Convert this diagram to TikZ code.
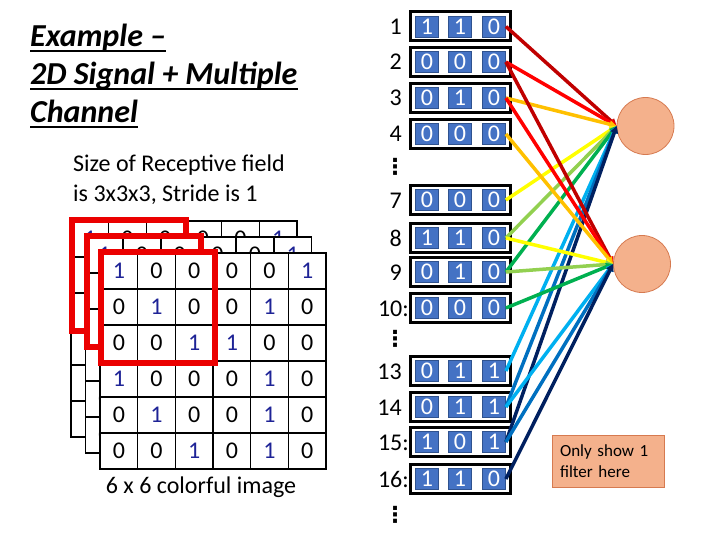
\documentclass[tikz,border=0pt]{standalone}
\usepackage{fontspec}
\setmainfont{Carlito}
\newfontfamily\dejavu{DejaVu Sans}
\usetikzlibrary{arrows.meta}
\definecolor{cdred}{HTML}{C00000}
\definecolor{cred}{HTML}{FF0000}
\definecolor{corange}{HTML}{FFC000}
\definecolor{cyellow}{HTML}{FFFF00}
\definecolor{clgreen}{HTML}{92D050}
\definecolor{cgreen}{HTML}{00B050}
\definecolor{clblue}{HTML}{00B0F0}
\definecolor{cblue}{HTML}{0070C0}
\definecolor{cdblue}{HTML}{002060}
\definecolor{cone}{RGB}{30,35,150}
\definecolor{sqblue}{HTML}{4472C4}
\definecolor{sqedge}{HTML}{2F528F}
\definecolor{salmon}{RGB}{244,177,140}
\definecolor{salmonedge}{RGB}{214,122,80}
\definecolor{rbox}{RGB}{235,0,0}
\tikzset{
  titletext/.style={anchor=base west, inner sep=0pt, font=\fontsize{32}{38}\selectfont\bfseries\itshape},
  uline/.style={line width=2pt},
  bodytext/.style={anchor=base west, inner sep=0pt, font=\fontsize{24}{28}\selectfont},
  cell/.style={draw, fill=white, line width=1.5pt, minimum width=37.67pt, minimum height=36pt, inner sep=0pt, font=\fontsize{24}{26}\selectfont},
  dig1/.style={text=cone},
  dig0/.style={text=black},
  redbox/.style={draw=rbox, line width=6pt},
  rowbox/.style={draw=black, line width=3pt, minimum width=100pt, minimum height=29pt, inner sep=0pt},
  sq/.style={draw=sqedge, fill=sqblue, line width=0.8pt, minimum width=23pt, minimum height=21pt, inner sep=0pt, text=white, font=\fontsize{24}{26}\selectfont},
  rowlabel/.style={anchor=base east, inner sep=0pt, font=\fontsize{24}{26}\selectfont},
  vdotsnode/.style={inner sep=0pt, font=\dejavu\bfseries\fontsize{22}{24}\selectfont},
  neuron/.style={circle, draw=salmonedge, fill=salmon, line width=0.8pt, minimum size=57pt, inner sep=0pt},
  conn/.style={line width=3.5pt, -{Triangle[length=7pt,width=7.5pt]}},
  notebox/.style={draw=salmonedge, fill=salmon, line width=0.8pt, text width=96pt, inner xsep=8pt, minimum height=52pt, align=left, font=\fontsize{17}{21}\selectfont}
}
\begin{document}
\begin{tikzpicture}[x=1pt,y=-1pt]
\useasboundingbox (0,0) rectangle (720,540);
% title
\node[titletext] (t1) at (30,47) {Example –};
\node[titletext] (t2) at (30,85) {2D Signal + Multiple};
\node[titletext] (t3) at (30,123) {Channel};
\foreach \t in {t1,t2,t3}{
  \draw[uline] ([yshift=-4pt]\t.base west) -- ([yshift=-4pt]\t.base east);
}
\node[bodytext] (s1) at (73,172) {Size of Receptive field};
\node[bodytext] (s2) at (73,202) {is 3x3x3, Stride is 1};
% grids (mode 1: top row digits only, 2: top row + left column, 3: all)
\foreach \L/\xo/\yo/\m in {a/71/221/1, b/85.5/237/2, c/100/253/3}{
  \foreach \rowvals [count=\r] in {{1,0,0,0,0,1},{0,1,0,0,1,0},{0,0,1,1,0,0},{1,0,0,0,1,0},{0,1,0,0,1,0},{0,0,1,0,1,0}}{
    \foreach \v [count=\c] in \rowvals {
      \pgfmathtruncatemacro\show{(\m==3) || (\r==1) || (\m==2 && \c==1)}
      \ifnum\show=1
        \node[cell, dig\v] (g\L-\r-\c) at ({\xo+(\c-0.5)*37.67},{\yo+(\r-0.5)*36}) {\v};
      \else
        \node[cell] (g\L-\r-\c) at ({\xo+(\c-0.5)*37.67},{\yo+(\r-0.5)*36}) {};
      \fi
    }
  }
  \draw[redbox] ({\xo+1},{\yo-1}) rectangle ({\xo+115},{\yo+110});
}
\node[anchor=base, inner sep=0pt, font=\fontsize{24}{26}\selectfont] (cap) at (201,493) {6 x 6 colorful image};
% rows of the flattened input
\foreach \id/\y/\lab/\lx/\a/\b/\cc in {1/26.5/1/402/1/1/0, 2/62/2/402/0/0/0, 3/98/3/402/0/1/0, 4/134/4/402/0/0/0, 7/200/7/402/0/0/0, 8/238/8/402/1/1/0, 9/272/9/402/0/1/0, 10/308/10:/409/0/0/0, 13/371/13/402/0/1/1, 14/407/14/402/0/1/1, 15/442/15:/409/1/0/1, 16/479/16:/409/1/1/0}{
  \node[rowbox] (b\id) at (460,\y) {};
  \node[sq] (s\id a) at (427,\y) {\a};
  \node[sq] (s\id b) at (460,\y) {\b};
  \node[sq] (s\id c) at (494,\y) {\cc};
  \node[rowlabel] (l\id) at (\lx,{\y+8}) {\lab};
}
\node[vdotsnode] (d1) at (395,167) {⋮};
\node[vdotsnode] (d2) at (395,339) {⋮};
\node[vdotsnode] (d3) at (395,515) {⋮};
% neurons
\node[neuron] (nt) at (645.5,126) {};
\node[neuron] (nb) at (642,264) {};
% connectors
\foreach \id/\col in {1/cdred, 2/cred, 3/corange, 7/cyellow, 8/clgreen, 9/cgreen, 13/clblue, 14/cblue, 15/cdblue}{
  \draw[conn, draw=\col, color=\col] (s\id c.east) -- (nt.west);
}
\foreach \id/\col in {2/cdred, 3/cred, 4/corange, 8/cyellow, 9/clgreen, 10/cgreen, 14/clblue, 15/cblue, 16/cdblue}{
  \draw[conn, draw=\col, color=\col] (s\id c.east) -- (nb.west);
}
\node[notebox] (note) at (608,461) {Only show 1\\filter here};
\end{tikzpicture}
\end{document}
